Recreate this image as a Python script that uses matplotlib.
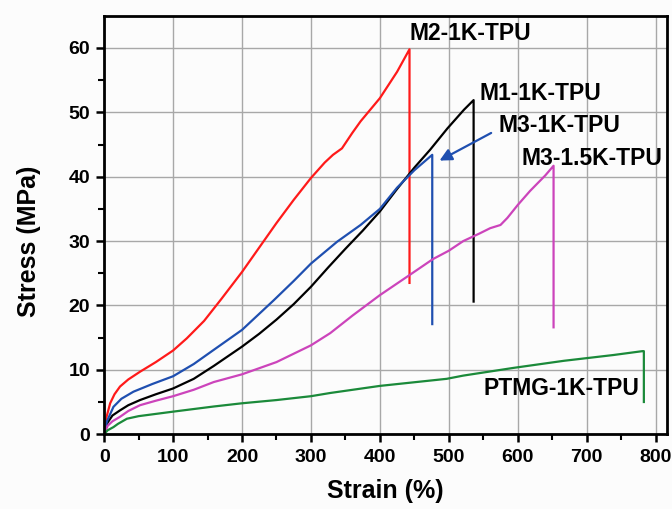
import matplotlib.pyplot as plt
import numpy as np

plt.rcParams['font.family'] = ['Liberation Sans', 'DejaVu Sans']
plt.rcParams['font.weight'] = 'bold'

# stress-strain curves, last point is the break drop
m2_strain = [0, 3, 8.7, 15, 23, 35, 52, 75, 100, 120, 145, 170, 200, 225, 250, 275, 300,
             320, 332, 345, 360, 372, 400, 425, 443, 443]
m2_stress = [0, 2.5, 4.8, 6.2, 7.4, 8.5, 9.7, 11.2, 13.0, 14.9, 17.6, 21.0, 25.2, 29.0, 32.8, 36.4, 39.8,
             42.2, 43.4, 44.4, 46.8, 48.6, 52.2, 56.3, 59.8, 23.5]

m1_strain = [0, 5, 12, 23, 35, 52, 75, 100, 130, 159, 200, 225, 250, 275, 300, 325, 350, 375, 400,
             425, 450, 473, 498, 522, 536, 536]
m1_stress = [0, 1.8, 2.9, 3.7, 4.5, 5.3, 6.2, 7.1, 8.6, 10.6, 13.6, 15.6, 17.8, 20.2, 22.9, 25.9, 28.8, 31.6, 34.6,
             38.1, 41.4, 44.2, 47.5, 50.4, 51.9, 20.6]

m3_strain = [0, 4, 13.5, 25, 42.5, 70, 100, 130, 159, 200, 246, 275, 300, 338, 372, 400,
             425, 450, 476, 476]
m3_stress = [0, 2.0, 4.25, 5.5, 6.6, 7.8, 9.0, 10.9, 13.1, 16.2, 20.8, 23.8, 26.5, 29.9, 32.5, 35.0,
             38.3, 41.0, 43.4, 17.1]

m315_strain = [0, 5, 12, 23, 35, 52, 75, 100, 130, 159, 200, 250, 300, 328, 360, 400, 440, 477,
               500, 521, 545, 560, 575, 585, 600, 618, 640, 652, 652]
m315_stress = [0, 1.3, 2.0, 2.7, 3.6, 4.5, 5.2, 5.9, 6.9, 8.1, 9.3, 11.2, 13.8, 15.7, 18.4, 21.6, 24.5, 27.2,
               28.5, 30.0, 31.2, 32.0, 32.5, 33.6, 35.6, 37.8, 40.2, 41.7, 16.6]

ptmg_strain = [0, 5, 13.5, 20, 33, 50, 100, 159, 200, 250, 300, 328, 400, 497, 521, 594, 667,
               739, 781, 783, 783]
ptmg_stress = [0, 0.6, 1.1, 1.6, 2.4, 2.8, 3.5, 4.3, 4.8, 5.3, 5.9, 6.4, 7.5, 8.6, 9.1, 10.3, 11.4,
               12.3, 12.9, 12.9, 5.0]

fig = plt.figure(figsize=(6.72, 5.09), dpi=100)
fig.patch.set_facecolor('#fcfcfc')
ax = fig.add_axes([0.155, 0.147, 0.838, 0.822])
ax.set_facecolor('#fcfcfc')

lw = 1.6
ax.plot(m2_strain, m2_stress, color='#ff1a1a', lw=lw)
ax.plot(m1_strain, m1_stress, color='black', lw=lw)
ax.plot(m3_strain, m3_stress, color='#1f4fb0', lw=lw)
ax.plot(m315_strain, m315_stress, color='#cc44bb', lw=lw)
ax.plot(ptmg_strain, ptmg_stress, color='#1b8a3a', lw=lw)

lab = dict(fontsize=16.5, fontweight='bold', va='center', ha='left')
ax.text(443, 62.2, 'M2-1K-TPU', **lab)
ax.text(544, 53.0, 'M1-1K-TPU', **lab)
ax.text(572, 48.0, 'M3-1K-TPU', **lab)
ax.text(605, 42.9, 'M3-1.5K-TPU', **lab)
ax.text(550, 7.1, 'PTMG-1K-TPU', **lab)

ax.annotate('', xy=(483, 42.3), xytext=(565, 47),
            arrowprops=dict(arrowstyle='-|>', color='#1f4fb0', lw=1.6,
                            mutation_scale=18))

ax.set_xlim(0, 817)
ax.set_ylim(0, 65)
ax.set_xticks(np.arange(0, 801, 100))
ax.set_yticks(np.arange(0, 61, 10))
ax.set_xticks(np.arange(50, 801, 100), minor=True)
ax.set_yticks(np.arange(5, 61, 10), minor=True)
ax.grid(True, which='major', color='#a8a8a8', lw=1.0)
ax.set_axisbelow(True)

for s in ax.spines.values():
    s.set_linewidth(2.0)
ax.tick_params(which='major', direction='out', length=6, width=1.8, labelsize=14)
ax.tick_params(axis='x', which='major', pad=5)
ax.tick_params(axis='y', which='major', pad=4)
ax.tick_params(which='minor', direction='out', length=4, width=1.5)
for t in ax.get_xticklabels() + ax.get_yticklabels():
    t.set_fontweight('bold')

ax.set_xlabel('Strain (%)', fontsize=18, fontweight='bold', labelpad=9)
ax.set_ylabel('Stress (MPa)', fontsize=18, fontweight='bold')
ax.yaxis.set_label_coords(-0.113, 0.46)

fig.savefig('out.png', dpi=100, facecolor=fig.get_facecolor())
